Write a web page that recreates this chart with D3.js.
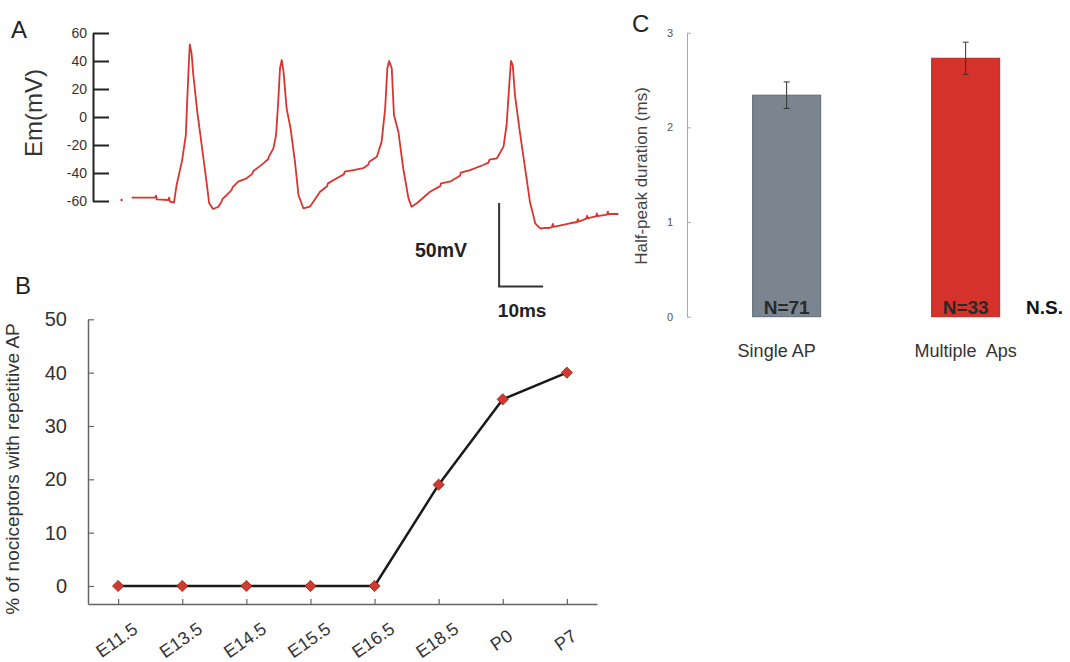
<!DOCTYPE html>
<html>
<head>
<meta charset="utf-8">
<script src="https://cdn.jsdelivr.net/npm/d3@7"></script>
<style>
  body { margin: 0; background: #fff; }
  svg { display: block; font-family: "Liberation Sans", Arial, sans-serif; }
</style>
</head>
<body>
<svg id="chart" width="1070" height="662"></svg>
<script>
// ---------- DATA ----------
// Panel A: membrane potential trace (time ms, Em mV)
const traceTime = [8.8,14.1,14.3,14.5,17.1,17.3,17.5,18.4,19.0,20.2,21.1,21.4,21.8,22.0,22.4,22.8,23.7,24.7,25.7,26.4,27.3,28.5,29.2,29.4,30.4,31.5,31.7,33.0,34.9,36.2,36.4,38.7,39.8,40.0,41.0,41.6,42.1,42.5,42.9,43.3,44.0,44.9,45.9,46.7,47.8,49.3,51.6,53.2,53.4,55.4,57.0,57.2,59.2,61.4,62.6,62.8,64.5,65.6,66.4,66.9,67.3,67.9,68.4,69.4,70.5,71.7,72.4,73.6,76.6,78.9,79.1,81.1,83.4,83.6,85.7,88.7,89.9,90.1,91.8,93.3,94.0,94.6,95.0,95.4,95.9,97.0,98.2,99.3,100.5,101.6,103.9,104.3,104.5,104.7,108.4,110.0,110.2,110.4,112.1,112.3,112.5,113.0,114.3,114.5,114.7,116.8,117.0,117.2,117.5,119.4];
const traceEm   = [-57.6,-57.6,-56.2,-58.8,-59.3,-57.6,-60.5,-61.2,-48.6,-31.9,-12.9,10.9,39.5,51.9,45.5,30,3.8,-20,-43.8,-61.6,-65.7,-64.1,-60.5,-58.6,-55.7,-52.2,-50.3,-46.2,-43.8,-40.6,-38.7,-33.1,-30.2,-28.1,-22.4,-12.9,10.9,34.8,40.7,32.4,6.2,-8.1,-31.9,-55.7,-65.2,-64.1,-53.4,-49.5,-47.4,-43.8,-41.0,-39.1,-37.9,-36.6,-33.9,-31.9,-28.4,-17.6,6.2,34.8,40,34.8,1.4,-10.5,-36.6,-58.1,-64.1,-61.6,-53.4,-49.4,-47.4,-46.2,-41.9,-39.8,-37.9,-34.3,-32.6,-30.5,-29.5,-21.2,-5.7,22.9,40,37.1,15.7,-10.5,-36.6,-60.5,-75.9,-79.5,-79.1,-78.6,-76.4,-78.5,-75.9,-75.0,-72.9,-74.8,-72.6,-70.6,-72.4,-71.9,-71.0,-68.9,-70.8,-69.7,-67.6,-69.5,-69.3,-69.3];
const traceDot = [[6.5, -59.3]];
const emTicks = [60, 40, 20, 0, -20, -40, -60];
const scaleBarMs = 10, scaleBarMv = 50;

// Panel B: % of nociceptors with repetitive AP
const stages = ["E11.5","E13.5","E14.5","E15.5","E16.5","E18.5","P0","P7"];
const pctRepetitive = [0, 0, 0, 0, 0, 19, 35, 40];
const pctTicks = [0, 10, 20, 30, 40, 50];

// Panel C: half-peak duration
const apGroups = ["Single AP", "Multiple  Aps"];
const halfPeakMean = [2.34, 2.73];
const halfPeakErr = [0.14, 0.17];
const groupN = ["N=71", "N=33"];
const durTicks = [0, 1, 2, 3];

// ---------- DRAW ----------
const svg = d3.select("#chart");
const FONT = "'Liberation Sans', Arial, sans-serif";
const plain = d => String(d);

// Panel letters
svg.append("text").attr("x", 11).attr("y", 38).attr("font-size", 24).attr("fill", "#222").text("A");
svg.append("text").attr("x", 15).attr("y", 294).attr("font-size", 24).attr("fill", "#222").text("B");
svg.append("text").attr("x", 632).attr("y", 32).attr("font-size", 24).attr("fill", "#222").text("C");

// ===== Panel A =====
const xA = d3.scaleLinear().domain([0, 120]).range([93, 621]);
const yA = d3.scaleLinear().domain([-60, 60]).range([201, 33]);

const axA = svg.append("g").attr("transform", "translate(93,0)")
  .call(d3.axisLeft(yA).tickValues(emTicks).tickFormat(plain).tickSize(-16).tickSizeOuter(0).tickPadding(6));
axA.select(".domain").attr("stroke", "#222").attr("stroke-width", 2);
axA.selectAll(".tick line").attr("stroke", "#222").attr("stroke-width", 2);
axA.selectAll(".tick text").attr("font-size", 14).attr("fill", "#333").attr("font-family", FONT);

svg.append("text")
  .attr("transform", "translate(34,113) rotate(-90)")
  .attr("text-anchor", "middle").attr("dy", "0.35em")
  .attr("font-size", 24).attr("fill", "#333").text("Em(mV)");

const tracePts = traceTime.map((t, i) => [t, traceEm[i]]);
svg.append("path").datum(tracePts)
  .attr("fill", "none").attr("stroke", "#d9342e").attr("stroke-width", 1.8)
  .attr("stroke-linejoin", "round")
  .attr("d", d3.line().x(d => xA(d[0])).y(d => yA(d[1])));
svg.selectAll(".dotA").data(traceDot).enter().append("circle")
  .attr("cx", d => xA(d[0])).attr("cy", d => yA(d[1])).attr("r", 1.2).attr("fill", "#d9342e");

// scale bar
const sbT = 92.3, sbTop = -61.4, sbBottom = -121;
svg.append("path")
  .attr("fill", "none").attr("stroke", "#333").attr("stroke-width", 2)
  .attr("d", d3.line()([[xA(sbT), yA(sbTop)], [xA(sbT), yA(sbBottom)], [xA(sbT + scaleBarMs), yA(sbBottom)]]));
svg.append("text").attr("x", 467).attr("y", 257).attr("text-anchor", "end")
  .attr("font-size", 19.5).attr("font-weight", "bold").attr("fill", "#222").text(scaleBarMv + "mV");
svg.append("text").attr("x", xA(sbT + scaleBarMs / 2) + 1).attr("y", 317).attr("text-anchor", "middle")
  .attr("font-size", 19).attr("font-weight", "bold").attr("fill", "#222").text(scaleBarMs + "ms");

// ===== Panel B =====
const xB = d3.scalePoint().domain(stages).range([88, 597]).padding(0.47);
const yB = d3.scaleLinear().domain([-3.375, 50]).range([604, 319.3]);

const ayB = svg.append("g").attr("transform", "translate(88,0)")
  .call(d3.axisLeft(yB).tickValues(pctTicks).tickFormat(plain).tickSize(-6).tickSizeOuter(0).tickPadding(21));
ayB.select(".domain").attr("stroke", "#666").attr("stroke-width", 1.5);
ayB.selectAll(".tick line").attr("stroke", "#666").attr("stroke-width", 1.2);
ayB.selectAll(".tick text").attr("font-size", 20).attr("fill", "#333").attr("font-family", FONT);

const axB = svg.append("g").attr("transform", "translate(0,604)")
  .call(d3.axisBottom(xB).tickSize(-5).tickSizeOuter(0));
axB.select(".domain").attr("stroke", "#666").attr("stroke-width", 1.5);
axB.selectAll(".tick line").attr("stroke", "#666").attr("stroke-width", 1.2);
axB.selectAll(".tick text")
  .attr("font-size", 18).attr("fill", "#333").attr("font-family", FONT)
  .attr("text-anchor", "middle")
  .attr("transform", "translate(-2,36) rotate(-35)")
  .attr("y", 0).attr("dy", "0.35em");

svg.append("text")
  .attr("transform", "translate(12,469) rotate(-90)")
  .attr("text-anchor", "middle").attr("dy", "0.35em")
  .attr("font-size", 19).attr("fill", "#333").text("% of nociceptors with repetitive AP");

const ptsB = stages.map((s, i) => [s, pctRepetitive[i]]);
svg.append("path").datum(ptsB)
  .attr("fill", "none").attr("stroke", "#1a1a1a").attr("stroke-width", 2.5)
  .attr("d", d3.line().x(d => xB(d[0])).y(d => yB(d[1])));
svg.selectAll(".diamond").data(ptsB).enter().append("path")
  .attr("transform", d => `translate(${xB(d[0])},${yB(d[1])})`)
  .attr("d", d3.symbol().type(d3.symbolDiamond2).size(80))
  .attr("fill", "#d23a30").attr("stroke", "#8e1f18").attr("stroke-width", 0.8);

// ===== Panel C =====
const xC = d3.scaleBand().domain(apGroups).range([690, 1062.3]).paddingInner(0.62).paddingOuter(0.35);
const yC = d3.scaleLinear().domain([0, 3]).range([316.7, 32.7]);

const ayC = svg.append("g").attr("transform", "translate(687,0)")
  .call(d3.axisLeft(yC).tickValues(durTicks).tickFormat(plain).tickSize(-4).tickSizeOuter(0).tickPadding(14));
ayC.select(".domain").attr("stroke", "#aaa").attr("stroke-width", 1);
ayC.selectAll(".tick line").attr("stroke", "#aaa");
ayC.selectAll(".tick text").attr("font-size", 11).attr("fill", "#555").attr("font-family", FONT);

svg.append("text")
  .attr("transform", "translate(641,176) rotate(-90)")
  .attr("text-anchor", "middle").attr("dy", "0.35em")
  .attr("font-size", 17).attr("fill", "#444").text("Half-peak duration (ms)");

const barFill = ["#7a8590", "#d5322c"];
const barStroke = ["#5f6a75", "#b82a24"];
const labelShift = [-10, 0];
const gC = svg.append("g");
apGroups.forEach((g, i) => {
  gC.append("rect")
    .attr("x", xC(g)).attr("width", xC.bandwidth())
    .attr("y", yC(halfPeakMean[i])).attr("height", yC(0) - yC(halfPeakMean[i]))
    .attr("fill", barFill[i]).attr("stroke", barStroke[i]).attr("stroke-width", 1);
  const cx = xC(g) + xC.bandwidth() / 2;
  const top = yC(halfPeakMean[i] + halfPeakErr[i]), bot = yC(halfPeakMean[i] - halfPeakErr[i]);
  gC.append("line").attr("x1", cx).attr("x2", cx).attr("y1", top).attr("y2", bot).attr("stroke", "#333").attr("stroke-width", 1);
  gC.append("line").attr("x1", cx - 3).attr("x2", cx + 3).attr("y1", top).attr("y2", top).attr("stroke", "#333").attr("stroke-width", 1);
  gC.append("line").attr("x1", cx - 3).attr("x2", cx + 3).attr("y1", bot).attr("y2", bot).attr("stroke", "#333").attr("stroke-width", 1);
  gC.append("text").attr("x", cx).attr("y", 313.5).attr("text-anchor", "middle")
    .attr("font-size", 19).attr("font-weight", "bold").attr("fill", "#2a2a2a").text(groupN[i]);
  gC.append("text").attr("x", cx + labelShift[i]).attr("y", 357).attr("text-anchor", "middle")
    .attr("font-size", 18).attr("fill", "#333").style("white-space", "pre").text(g);
});
svg.append("text").attr("x", 1026).attr("y", 313.5)
  .attr("font-size", 19).attr("font-weight", "bold").attr("fill", "#111").text("N.S.");
</script>
</body>
</html>
